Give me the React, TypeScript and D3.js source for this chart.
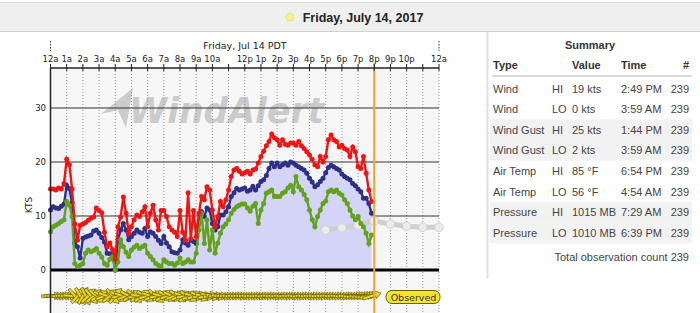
import React from 'react';
import * as d3 from 'd3';

// ---- data (10-minute observations, from 12a) ----
const STEP_HOURS = 1 / 6;
const gust = [
  15, 15, 14.8, 15.2, 15, 16,
  20.5, 19.5, 15, 8.5, 5.5, 8.3,
  8.5, 8.8, 9.2, 9.6, 9.8, 11.5,
  11, 10.6, 7, 4.3, 5, 3.8,
  2, 8, 9.8, 13.5, 10.5, 6.8,
  8, 9.3, 10.2, 9.9, 10.8, 11.7,
  8, 10.5, 12, 9.3, 7.4, 11,
  11, 9.9, 8, 7.4, 7, 6.2,
  11, 7, 5.5, 14.3, 5.8, 11,
  6.2, 10.5, 13.6, 13, 15.4, 14.8,
  11.1, 8, 9.9, 12.7, 11.7, 13,
  14.8, 17.3, 18.5, 18.8, 18.3, 17.8,
  18, 18.3, 17.8, 18.5, 18.7, 19.8,
  21, 22, 23, 23.8, 25.2, 24.5,
  24.1, 23.1, 24.1, 23.3, 23.1, 23.5,
  23.5, 23.1, 23.8, 23, 22.5, 21.9,
  21.3, 20.5, 19.5, 19.1, 21, 20,
  21, 24.1, 25, 24.1, 23.8, 22.8,
  23.1, 22.5, 22.2, 21, 22.8, 21.9,
  19.1, 18.8, 21, 17.9, 14.8, 12.7,
];
const wind = [
  11.1, 11.7, 11.5, 11.4, 11.8, 12.2,
  15.7, 15.1, 12.5, 5, 4.3, 2.2,
  5.9, 6.1, 6.3, 6.5, 7.2, 7.4,
  6.8, 6, 5.2, 3.1, 3, 2.8,
  0, 5.6, 7.4, 8.6, 7.4, 5.6,
  6.2, 6.8, 7.4, 7, 6.8, 7.7,
  6.2, 7.1, 6.8, 6.2, 5.5, 4.9,
  6.2, 5, 4.3, 3.4, 3.2, 3.1,
  3.7, 5.6, 5, 4.6, 5.6, 5.3,
  4.9, 8.6, 10.8, 9.9, 11.5, 11.1,
  8.6, 7.4, 8, 10.2, 10.2, 10.8,
  11.7, 13.6, 14.3, 15.1, 14.8, 15,
  15.2, 14.6, 14.8, 15.5, 14.8, 15.6,
  16.4, 16.7, 17.5, 18.8, 19.8, 19.1,
  19.8, 19.1, 19.5, 19.8, 19.4, 20,
  19.8, 19.4, 19.1, 18.8, 18.5, 17.9,
  17, 16.3, 15.4, 15.8, 16.4, 17,
  18, 19, 19.4, 19.1, 18.8, 18.5,
  17.8, 17.3, 17, 16.7, 16, 15.6,
  15, 14.5, 13.3, 13.3, 12.3, 10.5,
];
const lull = [
  7.1, 8, 8.3, 8.6, 9, 9.3,
  12.7, 12, 9.9, 1.2, 0.6, 0.9,
  1.2, 3.1, 3.7, 3.4, 3.6, 4,
  3.1, 2.4, 1.2, 0.9, 2, 2.5,
  0, 1.5, 5.6, 4.3, 3.3, 2.5,
  3.7, 4.2, 4.6, 4, 4.3, 4.6,
  3.1, 2.5, 1.9, 1.2, 0.9, 0.6,
  1.9, 1.5, 1.2, 1.2, 0.9, 1.3,
  2.2, 1.2, 1.5, 1.9, 1.5, 1.5,
  3.1, 7.4, 10.5, 4.9, 9.3, 3.7,
  7.4, 3.1, 5, 6.8, 8, 8.5,
  9.3, 10.5, 11.2, 11.7, 12, 12.2,
  12.2, 11.5, 10.9, 11.8, 12.3, 8.6,
  11.1, 12.3, 14.2, 14.5, 14.8, 13.6,
  13.6, 13.6, 14.2, 14.5, 15.2, 15.7,
  14.5, 17.3, 15.4, 14.8, 14, 13,
  11.1, 9.3, 8, 9.9, 11.1, 12.3,
  12.8, 14.5, 14.8, 14.5, 14.8, 14.2,
  13.9, 13, 12.3, 11.1, 10, 9.3,
  9.9, 8.6, 8, 6.8, 4.9, 6.5,
];
const windDir = [
  268, 270, 272, 270, 268, 271,
  272, 270, 275, 320, 220, 330,
  210, 335, 225, 320, 230, 310,
  240, 300, 250, 290, 230, 320,
  220, 300, 260, 285, 250, 300,
  240, 310, 260, 280, 235, 300,
  255, 290, 245, 310, 260, 285,
  240, 300, 255, 295, 250, 305,
  245, 290, 260, 300, 250, 285,
  255, 295, 262, 280, 258, 285,
  265, 278, 268, 275, 270, 272,
  270, 272, 268, 273, 270, 271,
  272, 270, 273, 269, 271, 270,
  270, 272, 268, 271, 273, 270,
  271, 269, 272, 270, 268, 271,
  270, 273, 270, 268, 271, 272,
  269, 271, 270, 272, 268, 270,
  271, 270, 273, 269, 270, 272,
  270, 268, 271, 270, 266, 264,
  268, 265, 262, 260, 258, 252,
];
const forecastHours = [17, 18, 19, 20, 21, 22, 23, 24];
const forecastWind = [7.4, 7.8, 8.3, 9.1, 8.5, 8.1, 7.9, 7.9];
const nowHour = 20;
const hourLabels = [
  '12a', '1a', '2a', '3a', '4a', '5a', '6a', '7a', '8a', '9a', '10a', '',
  '12p', '1p', '2p', '3p', '4p', '5p', '6p', '7p', '8p', '9p', '10p', '', '12a',
];
const yTicks = [0, 10, 20, 30];

const sumTypes = ['Wind', 'Wind', 'Wind Gust', 'Wind Gust', 'Air Temp', 'Air Temp', 'Pressure', 'Pressure'];
const sumKinds = ['HI', 'LO', 'HI', 'LO', 'HI', 'LO', 'HI', 'LO'];
const sumValues = ['19 kts', '0 kts', '25 kts', '2 kts', '85 °F', '56 °F', '1015 MB', '1010 MB'];
const sumTimes = ['2:49 PM', '3:59 AM', '1:44 PM', '3:59 AM', '6:54 PM', '4:54 AM', '7:29 AM', '6:39 PM'];
const sumCounts = [239, 239, 239, 239, 239, 239, 239, 239];
const totalCount = 239;

export default function App() {
  const x = d3.scaleLinear().domain([0, 24]).range([50.5, 439]);
  const y = d3.scaleLinear().domain([0, 30]).range([270, 108]);
  const top = 68;
  const bottom = 313;
  const t = (i: number) => i * STEP_HOURS;

  const line = d3.line<number>().x((_, i) => x(t(i))).y((d) => y(d));
  const area = d3.area<number>().x((_, i) => x(t(i))).y0(y(0)).y1((d) => y(d));
  const fLine = d3.line<number>().x((_, i) => x(forecastHours[i])).y((d) => y(d));

  const dirY = 296;
  const arrowPath = 'M-9,-1.4 L4,-1.4 L4,-4 L10,0 L4,4 L4,1.4 L-9,1.4 Z';

  const series = [
    { data: wind, color: '#2e3086' },
    { data: lull, color: '#62a21c' },
    { data: gust, color: '#f01414' },
  ];

  const tableFont = "'Liberation Sans', Arial, sans-serif";
  const chartFont = "'DejaVu Sans', Verdana, sans-serif";
  const rowY = (i: number) => 88.5 + i * 20.6;

  return (
    <svg width={700} height={313} style={{ position: 'absolute', left: 0, top: 0, background: '#fff' }}>
      {/* header bar */}
      <rect x={0} y={2} width={700} height={30} fill="#efefef" />
      <line x1={0} x2={700} y1={2.5} y2={2.5} stroke="#dcdcdc" />
      <line x1={0} x2={700} y1={31.5} y2={31.5} stroke="#d0d0d0" />
      <circle cx={290} cy={17} r={4} fill="#f4f18c" stroke="#e6e070" strokeWidth={0.8} />
      <text x={363} y={21.5} textAnchor="middle" fontFamily={tableFont} fontWeight="bold" fontSize={12.5} fill="#222">
        Friday, July 14, 2017
      </text>

      {/* plot background */}
      <rect x={x(0)} y={top} width={x(24) - x(0)} height={bottom - top} fill="#f6f6f6" />

      {/* watermark */}
      <g opacity={0.75}>
        <path d="M133,88 L126,128 L118,110 L101,114 Z" fill="#bdbdbd" />
        <text x={129} y={123} fontFamily="'DejaVu Sans', sans-serif" fontStyle="italic" fontWeight="bold" fontSize={36} fill="#bdbdbd" textLength={195} lengthAdjust="spacingAndGlyphs">
          WindAlert
        </text>
      </g>

      {/* vertical hour grid */}
      {d3.range(1, 25).map((h) => (
        <line key={'vg' + h} x1={x(h)} x2={x(h)} y1={top} y2={bottom} stroke="#999" strokeDasharray="1,2" strokeWidth={1} />
      ))}

      {/* horizontal grid */}
      {yTicks.filter((v) => v > 0).map((v) => (
        <line key={'hg' + v} x1={x(0)} x2={x(24)} y1={y(v)} y2={y(v)} stroke="#333" strokeWidth={1} />
      ))}

      {/* observed area */}
      <path d={area(wind) || ''} fill="#d4d4f6" />

      {/* forecast */}
      <path d={fLine(forecastWind) || ''} fill="none" stroke="#cfcfcf" strokeWidth={5} />
      {forecastWind.map((v, i) => (
        <circle key={'fc' + i} cx={x(forecastHours[i])} cy={y(v)} r={4.3} fill="#ececec" stroke="#d2d2d2" strokeWidth={1} />
      ))}

      {/* zero line */}
      <line x1={x(0)} x2={x(24)} y1={y(0)} y2={y(0)} stroke="#000" strokeWidth={3} />

      {/* series */}
      {series.map((s, si) => (
        <g key={'s' + si}>
          <path d={line(s.data) || ''} fill="none" stroke={s.color} strokeWidth={2.4} />
          {s.data.map((v, i) => (
            <circle key={i} cx={x(t(i))} cy={y(v)} r={2.5} fill={s.color} />
          ))}
        </g>
      ))}

      {/* wind direction arrows */}
      <g>
        {windDir.map((d, i) => (
          <path
            key={'wd' + i}
            d={arrowPath}
            transform={`translate(${x(t(i))},${dirY}) rotate(${d + 90})`}
            fill="#e8d62a"
            stroke="#5e5600"
            strokeWidth={0.6}
          />
        ))}
      </g>

      {/* now line */}
      <line x1={x(nowHour)} x2={x(nowHour)} y1={63} y2={bottom} stroke="#f0a234" strokeWidth={2} />

      {/* observed label */}
      <rect x={386} y={290.5} width={54} height={13} rx={6} fill="#f5e42c" stroke="#6a6000" strokeWidth={1} />
      <text x={413.5} y={300.5} textAnchor="middle" fontFamily={chartFont} fontSize={9.5} fill="#333">
        Observed
      </text>

      {/* left axis */}
      <line x1={x(0)} x2={x(0)} y1={top} y2={bottom} stroke="#222" strokeWidth={1.5} />
      {yTicks.map((v) => (
        <text key={'yl' + v} x={46} y={y(v) + 3} textAnchor="end" fontFamily={chartFont} fontSize={8.5} fill="#222">
          {v}
        </text>
      ))}
      <text transform={`translate(32,205) rotate(-90)`} textAnchor="middle" fontFamily={chartFont} fontSize={9} fill="#222">
        KTS
      </text>

      {/* top axis */}
      <line x1={x(0)} x2={x(24)} y1={top} y2={top} stroke="#222" strokeWidth={1.5} />
      {hourLabels.map((lab, h) => (
        <g key={'tk' + h}>
          <line x1={x(h)} x2={x(h)} y1={64} y2={71} stroke="#222" strokeWidth={1} />
          {lab && (
            <text x={x(h)} y={62} textAnchor="middle" fontFamily={chartFont} fontSize={8.5} fill="#222">
              {lab}
            </text>
          )}
        </g>
      ))}
      <text x={245} y={48.5} textAnchor="middle" fontFamily={chartFont} fontSize={9.5} fill="#222">
        Friday, Jul 14 PDT
      </text>
      {[0, 24].map((h) => (
        <line key={'ds' + h} x1={x(h)} x2={x(h)} y1={41} y2={51} stroke="#333" strokeDasharray="1.5,1.5" />
      ))}

      {/* summary panel */}
      <line x1={487.5} x2={487.5} y1={32} y2={278} stroke="#dedede" strokeWidth={2} />
      <text x={590} y={49} textAnchor="middle" fontFamily={tableFont} fontWeight="bold" fontSize={11} fill="#333">
        Summary
      </text>
      <g fontFamily={tableFont} fontSize={11} fontWeight="bold" fill="#333">
        <text x={493} y={69}>Type</text>
        <text x={572} y={69}>Value</text>
        <text x={621} y={69}>Time</text>
        <text x={689} y={69} textAnchor="end">#</text>
      </g>
      <line x1={492} x2={692} y1={76} y2={76} stroke="#cfcfcf" strokeWidth={1.5} />
      {sumTypes.map((tp, i) => (
        <g key={'row' + i} fontFamily={tableFont} fontSize={11} fill="#444">
          {(i === 2 || i === 3 || i === 6 || i === 7) && (
            <rect x={490} y={rowY(i) - 10.3} width={202} height={20.6} fill="#f2f2f2" />
          )}
          <text x={493} y={rowY(i) + 4}>{tp}</text>
          <text x={552} y={rowY(i) + 4}>{sumKinds[i]}</text>
          <text x={572} y={rowY(i) + 4}>{sumValues[i]}</text>
          <text x={621} y={rowY(i) + 4}>{sumTimes[i]}</text>
          <text x={689} y={rowY(i) + 4} textAnchor="end">{sumCounts[i]}</text>
        </g>
      ))}
      <text x={689} y={261} textAnchor="end" fontFamily={tableFont} fontSize={11} fill="#444">
        {`Total observation count ${totalCount}`}
      </text>
    </svg>
  );
}
